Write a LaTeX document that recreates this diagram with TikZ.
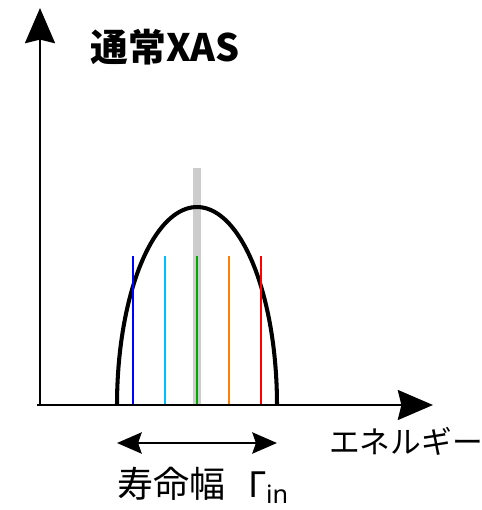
\documentclass[tikz,border=0pt]{standalone}
\usepackage{fontspec}
\setmainfont{Noto Sans}
\newfontfamily\jpfont{Noto Sans CJK JP}
\usetikzlibrary{arrows.meta}

\definecolor{lineblue}{RGB}{0,0,255}
\definecolor{linecyan}{RGB}{0,190,255}
\definecolor{linegreen}{RGB}{0,170,0}
\definecolor{lineorange}{RGB}{255,128,0}
\definecolor{linered}{RGB}{255,0,0}

\tikzset{
  axis/.style={line width=1.7pt, -{Stealth[length=20pt, width=17pt, inset=2pt]}},
  peak/.style={line width=2.3pt},
  level/.style={line width=1.6pt},
  label/.style={inner sep=0pt, font=\fontsize{17}{20}\selectfont}
}

\begin{document}
\begin{tikzpicture}[x=0.02cm, y=-0.02cm]
    \useasboundingbox (0,0) rectangle (482,510);

    \coordinate (origin) at (40,405);
    \coordinate (ytop) at (40,8);
    \coordinate (xleft) at (37,405);
    \coordinate (xend) at (433,405);

    % gray reference line
    \draw[line width=4.5pt, gray!40] (197,168) -- (197,405);

    % spectrum
    \draw[peak] plot[domain=180:0, samples=80] ({197+80*cos(\x)}, {405-198*sin(\x)});

    % levels
    \draw[level, lineblue] (133,256) -- (133,405);
    \draw[level, linecyan] (165,256) -- (165,405);
    \draw[level, linegreen] (197,256) -- (197,405);
    \draw[level, lineorange] (229,256) -- (229,405);
    \draw[level, linered] (261,256) -- (261,405);

    \draw[axis] (origin) -- (ytop);
    \draw[axis] (xleft) -- (xend);

    \node[label, font=\fontsize{21.5}{24}\selectfont\bfseries\jpfont] (title) at (165,47) {通常XAS};
    \node[label, font=\fontsize{17.5}{20}\selectfont\jpfont] (energy) at (406,441) {エネルギー};

    \coordinate (wl) at (117,443);
    \coordinate (wr) at (277,443);
    \draw[line width=1.7pt, {Stealth[length=14pt, width=12pt, inset=2pt]}-{Stealth[length=14pt, width=12pt, inset=2pt]}] (wl) -- (wr);

    \node[label, anchor=west, font=\fontsize{20.5}{24}\selectfont] (width) at (117,485) {{\jpfont 寿命幅}\hspace{13pt}Γ\textsubscript{in}};
\end{tikzpicture}
\end{document}
